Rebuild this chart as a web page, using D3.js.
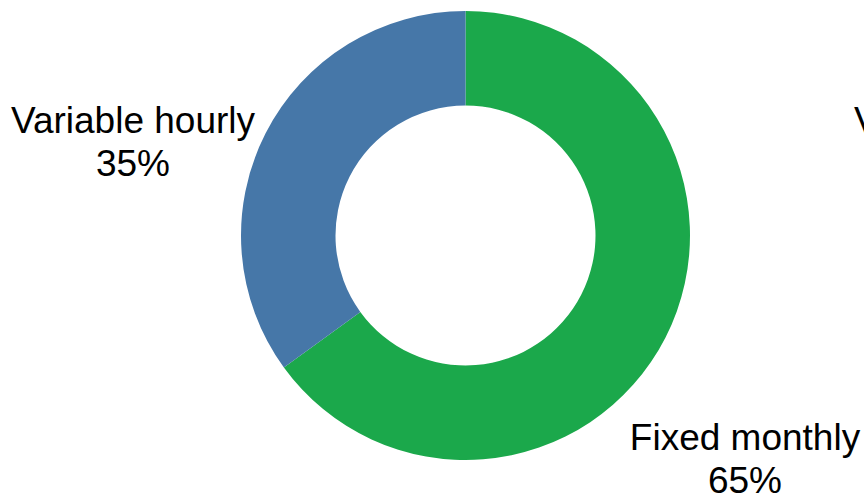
<!DOCTYPE html>
<html><head><meta charset="utf-8">
<script src="https://cdn.jsdelivr.net/npm/d3@7"></script>
<style>html,body{margin:0;padding:0;background:#fff;overflow:hidden}</style>
</head><body>
<svg id="c" width="864" height="496"></svg>
<script>
const categories = ["Fixed monthly", "Variable hourly", "Variable daily"];
const values = [65, 35, 0];
const colors = ["#1BA84B", "#4677A8", "#888888"];

const svg = d3.select("#c");
const cx = 465.5, cy = 235.5, rOuter = 224.5, rInner = 130;
const g = svg.append("g").attr("transform", `translate(${cx},${cy})`);
const pie = d3.pie().sort(null).value(d => d.v);
const data = categories.map((c, i) => ({c, v: values[i], col: colors[i]}));
const arcs = pie(data);
const arc = d3.arc().innerRadius(rInner).outerRadius(rOuter);
g.selectAll("path").data(arcs.filter(a => a.data.v > 0)).enter().append("path")
  .attr("d", arc).attr("fill", d => d.data.col);

// label anchor: [x, baseline, mode] mode 'middle' = centre x, 'left' = left edge of first line
const labelPos = [[745, 450, "middle"], [133, 133, "middle"], [854, 133, "left"]];
const font = "Liberation Sans, Arial, sans-serif";
data.forEach((d, i) => {
  const t = svg.append("text").attr("text-anchor", "middle")
    .attr("font-family", font).attr("font-size", 37).attr("fill", "#000");
  const l1 = t.append("tspan").attr("y", labelPos[i][1]).text(d.c);
  const l2 = t.append("tspan").attr("y", labelPos[i][1] + 43).text(d.v + "%");
  let xc = labelPos[i][0];
  if (labelPos[i][2] === "left") xc = labelPos[i][0] + l1.node().getComputedTextLength() / 2;
  l1.attr("x", xc); l2.attr("x", xc);
});
</script>
</body></html>
